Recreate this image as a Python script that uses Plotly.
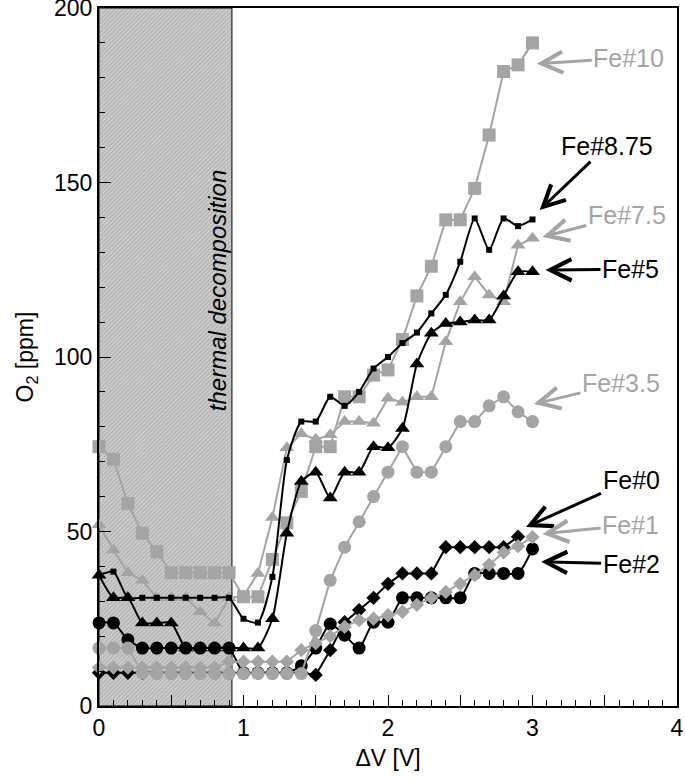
import plotly.graph_objects as go

# Applied voltage steps [V]
DV = [0.0, 0.1, 0.2, 0.3, 0.4, 0.5, 0.6, 0.7, 0.8, 0.9, 1.0,
      1.1, 1.2, 1.3, 1.4, 1.5, 1.6, 1.7, 1.8, 1.9, 2.0,
      2.1, 2.2, 2.3, 2.4, 2.5, 2.6, 2.7, 2.8, 2.9, 3.0]

# O2 concentration [ppm] per Fe content
fe10 = [74.3, 70.7, 58, 49.5, 44.2, 38.2, 38.2, 38.2, 38.2, 38.2, 31.3,
        31.3, 42, 52.5, 61.5, 74.3, 74.3, 88.6, 88.6, 94.8, 96.3,
        105, 117.5, 126, 139.3, 139.3, 148.3, 163.6, 181.8, 183.7, 190]
fe875 = [37.5, 38.5, 31, 31, 31, 31, 31, 31, 31, 31, 25,
         23.9, 37, 70.5, 81.5, 81.5, 88.6, 86, 90, 96.7, 100,
         104, 107, 112.5, 117.8, 127.3, 139.7, 130.7, 139.7, 137.5, 139.4]
fe75 = [51.9, 44.7, 38.2, 36, 31, 31, 31, 27, 23.8, 31, 31.5,
        38, 54, 74, 78, 76.4, 77.7, 81.5, 81.5, 81, 88.2,
        87, 88.6, 88.6, 104.4, 115.8, 123, 117.8, 115.8, 132, 134]
fe5 = [37.5, 31, 31, 23.8, 23.8, 23.8, 16.6, 16.6, 16.6, 16.6, 16.6,
       16.6, 25, 49.5, 64.3, 67, 59.6, 67, 67, 74.3, 74,
       79.5, 98, 106.8, 109.6, 110, 110.6, 110.6, 117.5, 124.4, 124.4]
fe35 = [16.6, 16.6, 16.6, 9.5, 9.3, 9.3, 9.3, 9.3, 9.3, 9.3, 9.3,
        9.3, 9.3, 9.3, 9.3, 21.6, 36, 45.5, 52.8, 60, 67,
        74.3, 67, 67, 74.3, 81.5, 81.5, 86, 88.6, 84.3, 81.5]
fe2 = [23.8, 23.8, 19, 16.6, 16.6, 16.6, 16.6, 16.6, 16.6, 16.6, 9.5,
       9.5, 9.5, 9.5, 11.5, 16.6, 23.5, 20.3, 16.6, 24, 24,
       31, 31, 31, 31, 31, 38, 38, 38, 38, 45]
fe1 = [11, 11, 11, 11, 11, 11, 11, 11, 11, 12.7, 12.7,
       12.7, 12.7, 12.7, 16, 18, 20, 22.7, 24.6, 25, 26,
       27, 29, 31, 32.7, 35, 37.5, 40.5, 44, 45.8, 48.4]
fe0 = [9.5, 9.5, 9.5, 9.5, 9.5, 9.5, 9.5, 9.5, 9.5, 9.5, 9.5,
       9.5, 9.5, 9.5, 9.5, 8.9, 16, 24, 27.5, 31, 35,
       38, 38, 38, 45.5, 45.5, 45.5, 45.5, 45.5, 48.5]

# thermal decomposition window [V]
decomp_start = 0.0
decomp_end = 0.92

GRAY = '#a4a4a4'
BLACK = '#000000'
FONT = 'Arial, Liberation Sans, sans-serif'

# name, values, colour, marker symbol, marker size, line shape
series = [
    ('Fe#10', fe10, GRAY, 'square', 13, 'linear'),
    ('Fe#7.5', fe75, GRAY, 'triangle-up', 13, 'linear'),
    ('Fe#0', fe0, BLACK, 'diamond', 11, 'linear'),
    ('Fe#2', fe2, BLACK, 'circle', 13, 'spline'),
    ('Fe#1', fe1, GRAY, 'diamond', 11, 'linear'),
    ('Fe#3.5', fe35, GRAY, 'circle', 13, 'linear'),
    ('Fe#5', fe5, BLACK, 'triangle-up', 13, 'spline'),
    ('Fe#8.75', fe875, BLACK, 'square', 6, 'spline'),
]

fig = go.Figure()

# hatched region
fig.add_trace(go.Scatter(
    x=[decomp_start, decomp_end, decomp_end, decomp_start, decomp_start],
    y=[0, 0, 200, 200, 0],
    mode='lines', fill='toself',
    fillcolor='#c6c6c6',
    fillpattern=dict(shape='/', bgcolor='#cdcdcd', fgcolor='#8a8a8a',
                     size=3, solidity=0.35),
    line=dict(color=BLACK, width=1),
    hoverinfo='skip', showlegend=False
))

for name, vals, color, symbol, size, shape in series:
    fig.add_trace(go.Scatter(
        x=DV[:len(vals)], y=vals, name=name,
        mode='lines+markers',
        line=dict(color=color, width=2, shape=shape, smoothing=0.6),
        marker=dict(symbol=symbol, size=size, color=color),
        cliponaxis=False, showlegend=False
    ))

# label text, colour, arrow tip (x, y), text offset in px
labels = [
    ('Fe#10', GRAY, 3.03, 184.0, 92, -6),
    ('Fe#8.75', BLACK, 3.05, 142.1, 67, -64),
    ('Fe#7.5', GRAY, 3.07, 134.4, 84, -22),
    ('Fe#5', BLACK, 3.09, 124.9, 85, -1),
    ('Fe#3.5', GRAY, 3.01, 86.5, 87, -21),
    ('Fe#0', BLACK, 2.955, 51.3, 105, -47),
    ('Fe#1', GRAY, 3.07, 49.3, 88, -9),
    ('Fe#2', BLACK, 3.06, 41.3, 90, 2),
]
for text, color, x, y, ax, ay in labels:
    fig.add_annotation(
        x=x, y=y, ax=ax, ay=ay, text=text,
        showarrow=True, arrowhead=5, arrowsize=1.4, arrowwidth=3,
        arrowcolor=color, font=dict(family=FONT, size=25, color=color)
    )

fig.add_annotation(
    x=0.82, y=119, text='<i>thermal decomposition</i>', textangle=-90,
    showarrow=False, font=dict(family=FONT, size=24, color=BLACK)
)

fig.update_xaxes(
    range=[0, 4], tickvals=[0, 0.5, 1, 1.5, 2, 2.5, 3, 3.5, 4],
    ticktext=['0', '', '1', '', '2', '', '3', '', '4'],
    ticks='inside', ticklen=11, tickwidth=1, tickcolor=BLACK,
    minor=dict(dtick=0.1, ticks='inside', ticklen=6, tickcolor=BLACK),
    showline=True, linewidth=2, linecolor=BLACK, mirror=True,
    showgrid=False, zeroline=False, automargin=False,
    ticklabeloverflow='allow',
    tickfont=dict(family=FONT, size=23, color=BLACK),
    title=dict(text='ΔV [V]', standoff=10,
               font=dict(family=FONT, size=23, color=BLACK))
)
fig.update_yaxes(
    range=[0, 200], tickvals=[0, 50, 100, 150, 200],
    ticks='inside', ticklen=12, tickwidth=1, tickcolor=BLACK,
    minor=dict(dtick=10, ticks='inside', ticklen=6, tickcolor=BLACK),
    showline=True, linewidth=2, linecolor=BLACK, mirror=True,
    showgrid=False, zeroline=False, automargin=False,
    ticklabeloverflow='allow',
    tickfont=dict(family=FONT, size=23, color=BLACK),
    title=dict(text='O<sub>2</sub> [ppm]', standoff=14,
               font=dict(family=FONT, size=23, color=BLACK))
)

fig.update_layout(
    width=685, height=782,
    margin=dict(l=99, r=8, t=8, b=76),
    plot_bgcolor='white', paper_bgcolor='white',
    showlegend=False
)

# drop the page's default body margin so the figure fills the window
fig.write_html('out.html', config={'displayModeBar': False},
               post_script="document.body.style.margin='0';")
